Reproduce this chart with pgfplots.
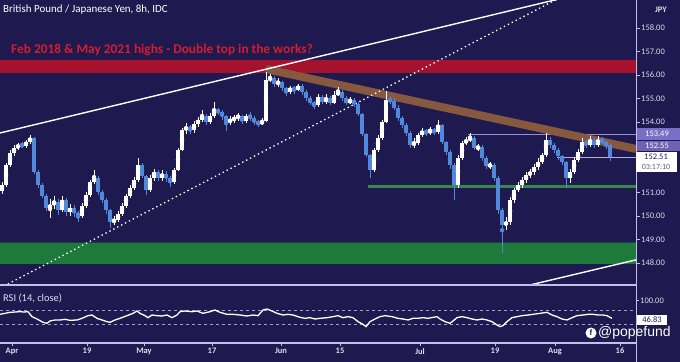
\documentclass[border=0pt]{standalone}
\usepackage{pgfplots}
\pgfplotsset{compat=1.18}
\usepackage{pgfplotstable}
\usepackage{fontspec}
\setmainfont{Carlito}
\newfontfamily\wmfont{Liberation Sans}
\definecolor{bg}{RGB}{30,25,78}
\definecolor{axtext}{RGB}{222,222,238}
\definecolor{redband}{RGB}{165,18,45}
\definecolor{redtext}{RGB}{215,28,48}
\definecolor{greenband}{RGB}{30,122,58}
\definecolor{brownband}{RGB}{134,88,64}
\definecolor{downc}{RGB}{82,136,218}
\definecolor{sepline}{RGB}{196,190,238}
\definecolor{boxpurple}{RGB}{122,110,198}
\definecolor{hline}{RGB}{150,140,215}

\pgfplotstableread{
x o h l c
2 151.05 151.45 150.95 151.32
6 151.32 152.25 151.25 152.17
10 152.17 152.80 152.10 152.68
14 152.68 153.00 152.55 152.89
18 152.89 153.12 152.80 153.02
26 152.98 153.25 152.90 153.15
30 153.15 153.45 153.05 153.32
50 150.34 150.70 149.90 150.47
54 150.47 150.85 150.30 150.60
62 150.26 150.85 150.15 150.68
70 150.17 150.50 150.00 150.34
82 150.00 150.55 149.90 150.43
86 150.43 151.00 150.35 150.89
90 150.89 151.55 150.80 151.45
94 151.45 151.95 151.35 151.62
114 149.74 150.00 149.60 149.83
118 149.83 150.20 149.75 150.08
122 150.08 150.55 150.00 150.43
126 150.43 150.95 150.35 150.85
130 150.85 151.30 150.75 151.19
134 151.19 151.65 151.10 151.53
138 151.53 152.47 151.45 152.17
150 151.11 151.75 151.00 151.62
154 151.62 152.00 151.50 151.87
162 151.62 151.95 151.50 151.79
174 151.45 152.05 151.35 151.96
178 151.96 152.90 151.90 152.81
182 152.81 153.75 152.75 153.66
186 153.66 153.95 153.50 153.79
194 153.66 154.05 153.55 153.91
198 153.91 154.20 153.80 154.09
202 154.09 154.50 154.00 154.25
210 154.00 154.40 153.90 154.25
214 154.25 154.85 154.15 154.51
230 154.00 154.25 153.85 154.09
234 154.09 154.30 153.95 154.17
238 154.17 154.40 154.05 154.25
246 154.04 154.35 153.95 154.25
262 153.91 154.15 153.85 154.04
266 154.04 156.12 154.00 155.79
270 155.79 156.05 155.70 155.87
278 155.62 155.85 155.50 155.70
290 155.28 155.55 155.20 155.45
298 155.36 155.62 155.30 155.53
318 154.72 155.20 154.65 155.06
326 154.85 155.20 154.75 155.02
334 154.81 155.30 154.75 155.15
338 155.15 155.50 155.10 155.28
350 154.81 155.05 154.75 154.94
374 151.96 152.90 151.85 152.81
378 152.81 153.45 152.70 153.32
382 153.32 154.10 153.25 154.00
386 154.00 155.30 153.95 154.94
414 153.02 153.30 152.90 153.11
418 153.11 153.55 153.00 153.45
422 153.45 153.75 153.35 153.62
430 153.53 153.80 153.45 153.66
438 153.57 154.10 153.50 153.87
458 151.32 152.60 151.20 152.47
462 152.47 153.20 152.40 153.11
466 153.11 153.35 153.00 153.23
470 153.23 153.52 153.15 153.32
478 152.89 153.05 152.75 152.95
490 152.13 152.30 152.00 152.17
506 149.62 149.95 149.40 149.74
510 149.74 150.80 149.60 150.68
514 150.68 151.20 150.55 151.11
518 151.11 151.45 151.00 151.32
522 151.32 151.65 151.20 151.53
526 151.53 151.85 151.40 151.74
530 151.74 152.00 151.60 151.87
534 151.87 152.20 151.75 152.08
538 152.08 152.45 151.95 152.30
542 152.30 152.70 152.20 152.60
546 152.60 153.53 152.50 153.23
570 151.62 152.00 151.40 151.87
574 151.87 152.50 151.80 152.38
578 152.38 152.85 152.30 152.72
582 152.72 153.30 152.65 153.15
590 153.02 153.42 152.95 153.23
598 153.02 153.40 152.95 153.23
}\upc

\pgfplotstableread{
x o h l c
22 153.02 153.15 152.88 152.98
34 153.32 153.38 151.80 151.87
38 151.87 151.95 151.20 151.32
42 151.32 151.40 150.75 150.85
46 150.85 150.95 150.20 150.34
58 150.60 150.70 150.05 150.26
66 150.68 150.75 150.00 150.17
74 150.34 150.45 149.95 150.13
78 150.13 150.20 149.75 150.00
98 151.62 151.70 150.90 151.02
102 151.02 151.10 150.55 150.68
106 150.68 150.75 150.10 150.26
110 150.26 150.30 149.50 149.74
142 152.17 152.25 151.60 151.70
146 151.70 151.75 150.90 151.11
158 151.87 151.95 151.50 151.62
166 151.79 151.90 151.45 151.62
170 151.62 151.70 151.25 151.45
190 153.79 153.85 153.50 153.66
206 154.25 154.35 153.85 154.00
218 154.51 154.60 154.30 154.42
222 154.42 154.50 154.10 154.25
226 154.25 154.30 153.60 154.00
242 154.25 154.30 153.90 154.04
250 154.25 154.42 154.05 154.17
254 154.17 154.25 153.85 154.00
258 154.00 154.10 153.80 153.91
274 155.87 155.95 155.50 155.62
282 155.70 155.75 155.30 155.45
286 155.45 155.50 155.10 155.28
294 155.45 155.55 155.20 155.36
302 155.53 155.60 155.15 155.28
306 155.28 155.35 154.90 155.02
310 155.02 155.10 154.70 154.81
314 154.81 154.90 154.55 154.72
322 155.06 155.15 154.75 154.85
330 155.02 155.10 154.70 154.81
342 155.28 155.35 154.90 155.02
346 155.02 155.10 154.70 154.81
354 154.94 155.00 154.65 154.77
358 154.77 154.85 154.25 154.34
362 154.34 154.40 153.40 153.49
366 153.49 153.55 152.50 152.60
370 152.60 152.65 151.60 151.96
390 154.94 155.10 154.75 154.90
394 154.90 155.00 154.50 154.60
398 154.60 154.70 154.05 154.17
402 154.17 154.25 153.75 153.87
406 153.87 153.95 153.40 153.53
410 153.53 153.60 152.90 153.02
426 153.62 153.70 153.40 153.53
434 153.66 153.75 153.45 153.57
442 153.87 153.92 153.05 153.15
446 153.15 153.20 152.60 152.72
450 152.72 152.80 152.00 152.17
454 152.17 152.25 150.68 151.32
474 153.32 153.40 152.80 152.89
482 152.95 153.00 152.35 152.47
486 152.47 152.55 152.00 152.13
494 152.17 152.25 151.50 151.62
498 151.62 151.70 150.10 150.26
502 150.26 150.35 148.43 149.62
550 153.23 153.35 152.90 153.02
554 153.02 153.10 152.70 152.81
558 152.81 152.90 152.40 152.55
562 152.55 152.60 152.15 152.30
566 152.30 152.35 151.20 151.62
586 153.15 153.25 152.90 153.02
594 153.23 153.30 152.90 153.02
602 153.23 153.35 153.05 153.15
606 153.15 153.20 152.85 153.02
610 153.02 153.08 152.35 152.51
}\downc

\pgfplotstableread{
x r
0 59
5 62
10 65
15 66
20 67
24 66
28 67
32 52
37 45
43 35
47 32
50 39
55 42
60 42
65 44
70 41
77 42
82 47
88 55
92 57
97 47
102 42
107 37
110 35
115 42
120 47
127 55
133 62
137 69
140 62
145 55
148 49
152 57
157 55
162 54
167 57
172 49
177 57
180 67
185 69
192 67
197 69
203 62
210 67
215 72
220 65
227 59
233 59
240 57
247 54
253 57
258 55
263 72
267 75
272 69
277 62
283 57
288 59
293 57
300 50
305 47
310 49
315 45
320 47
327 49
333 52
338 55
343 49
348 52
353 49
358 37
363 29
366 22
370 37
375 45
380 52
385 55
392 52
398 47
403 45
408 42
413 47
418 47
423 49
428 47
433 50
437 52
440 45
445 37
450 32
453 39
457 49
462 52
467 49
472 45
477 42
482 45
487 42
492 37
497 27
500 22
503 25
507 37
512 49
517 52
522 55
528 57
533 59
540 62
547 65
552 57
557 52
562 45
567 42
572 49
577 55
583 57
588 59
593 59
598 57
603 57
607 55
612 46.83
}\rsi

\pgfplotsset{
  chartbase/.style={
    scale only axis, width=636bp, xmin=0, xmax=636,
    axis line style={draw=none},
    tick align=outside, major tick length=4bp,
    tick style={draw=sepline, line width=0.8bp},
    ytick pos=right, yticklabel pos=right,
    yticklabel style={font=\fontsize{8.5}{9}\selectfont, text=axtext, inner sep=1bp,
      /pgf/number format/fixed, /pgf/number format/fixed zerofill,
      /pgf/number format/precision=2, /pgf/number format/assume math mode=true},
  },
}

\begin{document}
\begin{tikzpicture}
\useasboundingbox (0bp,0bp) rectangle (680bp,362bp);
\fill[bg] (0bp,0bp) rectangle (680bp,362bp);

% ---------- price panel ----------
\begin{axis}[chartbase, at={(0bp,77bp)}, anchor=south west, height=285bp,
  ymin=147.06, ymax=159.19, xtick=\empty,
  ytick={148,149,150,151,154,155,156,157,158}]
  \addplot[fill=redband, draw=none] coordinates {(0,156.09) (636,156.09) (636,156.64) (0,156.64) (0,156.09)};
  \addplot[fill=greenband, draw=none] coordinates {(0,147.96) (636,147.96) (636,148.86) (0,148.86) (0,147.96)};
  \addplot[greenband!90!white, line width=3bp] coordinates {(368,151.25) (636,151.25)};
  \addplot[hline, line width=0.7bp] coordinates {(468,153.49) (636,153.49)};
  \addplot[hline!70!white, line width=0.6bp] coordinates {(557,152.51) (636,152.51)};
  \addplot[brownband, line width=8bp] coordinates {(266,156.25) (636,152.85)};
  \addplot[white, line width=1.4bp] coordinates {(0,153.53) (636,160.02)};
  \addplot[white, line width=1.3bp, dash pattern=on 1.4bp off 3bp] coordinates {(0,146.93) (636,160.97)};
  \addplot[white, line width=1.4bp] coordinates {(520,146.96) (636,148.13)};
  % candles: wicks
  \addplot[white, only marks, mark=none, forget plot,
     error bars/.cd, y dir=both, y explicit, error mark=none,
     error bar style={line width=0.9bp, white}]
     table[x=x, y expr={(\thisrow{h}+\thisrow{l})/2}, y error expr={(\thisrow{h}-\thisrow{l})/2}] {\upc};
  \addplot[downc, only marks, mark=none, forget plot,
     error bars/.cd, y dir=both, y explicit, error mark=none,
     error bar style={line width=0.9bp, downc}]
     table[x=x, y expr={(\thisrow{h}+\thisrow{l})/2}, y error expr={(\thisrow{h}-\thisrow{l})/2}] {\downc};
  % candles: bodies
  \addplot[white, only marks, mark=none, forget plot,
     error bars/.cd, y dir=both, y explicit, error mark=none,
     error bar style={line width=3.1bp, white}]
     table[x=x, y expr={(\thisrow{o}+\thisrow{c})/2}, y error expr={max(abs(\thisrow{c}-\thisrow{o})/2,0.03)}] {\upc};
  \addplot[downc, only marks, mark=none, forget plot,
     error bars/.cd, y dir=both, y explicit, error mark=none,
     error bar style={line width=3.1bp, downc}]
     table[x=x, y expr={(\thisrow{o}+\thisrow{c})/2}, y error expr={max(abs(\thisrow{c}-\thisrow{o})/2,0.03)}] {\downc};
\end{axis}

% ---------- RSI panel ----------
\begin{axis}[chartbase, at={(0bp,19bp)}, anchor=south west, height=57bp,
  ymin=-27.2, ymax=144.2, ytick={100},
  xtick={12,87,144,212,281,340,420,495,555,620},
  xticklabels={Apr,19,May,17,Jun,15,Jul,19,Aug,16},
  xtick pos=bottom, xticklabel pos=bottom,
  major tick length=3bp,
  xticklabel style={font=\fontsize{8.5}{9}\selectfont\bfseries, text=axtext, inner sep=1bp, yshift=-1bp}]
  \addplot[sepline!80!bg, line width=0.6bp, dash pattern=on 3bp off 3bp] coordinates {(0,70) (636,70)};
  \addplot[sepline!80!bg, line width=0.6bp, dash pattern=on 3bp off 3bp] coordinates {(0,30) (636,30)};
  \addplot[white, line width=1.3bp] table[x=x, y=r] {\rsi};
\end{axis}

% separators and frame
\draw[sepline, line width=1.2bp] (0bp,77bp) -- (636bp,77bp);
\draw[sepline, line width=1.2bp] (0bp,19bp) -- (636bp,19bp);
\draw[sepline, line width=1bp] (636bp,0bp) -- (636bp,362bp);

% texts
\node[anchor=west, text=white, font=\fontsize{11}{12}\selectfont, inner sep=0pt] at (3bp,352bp) {British Pound / Japanese Yen, 8h, IDC};
\node[anchor=west, text=redtext, font=\fontsize{13.4}{14}\selectfont\bfseries, inner sep=0pt] at (11bp,312bp) {Feb 2018 \& May 2021 highs - Double top in the works?};
\node[anchor=west, text=axtext, font=\fontsize{10.5}{12}\selectfont, inner sep=0pt] at (3bp,64bp) {RSI (14, close)};
\node[anchor=center, text=axtext, font=\fontsize{8.5}{9}\selectfont\bfseries, inner sep=0pt] at (661bp,352bp) {JPY};

% value boxes
\fill[boxpurple] (637bp,222bp) rectangle (680bp,234bp);
\node[text=white, font=\fontsize{8.5}{9}\selectfont, inner sep=0pt] at (657bp,228bp) {153.49};
\fill[boxpurple!90!black] (637bp,211bp) rectangle (680bp,221bp);
\node[text=white, font=\fontsize{8.5}{9}\selectfont, inner sep=0pt] at (657bp,216bp) {152.55};
\fill[white] (636bp,190bp) rectangle (677bp,210bp);
\node[text=bg, font=\fontsize{8.5}{9}\selectfont, inner sep=0pt] at (656bp,205bp) {152.51};
\node[text=bg!70!white, font=\fontsize{8}{9}\selectfont, inner sep=0pt] at (656bp,195bp) {03:17:10};
\fill[white] (637bp,37bp) rectangle (667bp,47bp);
\node[text=bg, font=\fontsize{8.5}{9}\selectfont, inner sep=0pt] at (652bp,42bp) {46.83};

% watermark
\node[circle, fill=white, inner sep=0pt, minimum size=11bp, font=\wmfont\bfseries\fontsize{8}{8}\selectfont, text=bg] at (591bp,29bp) {f};
\node[anchor=west, text=white, font=\wmfont\fontsize{14}{15}\selectfont, inner sep=0pt] at (598bp,29bp) {@popefund};
\end{tikzpicture}
\end{document}
